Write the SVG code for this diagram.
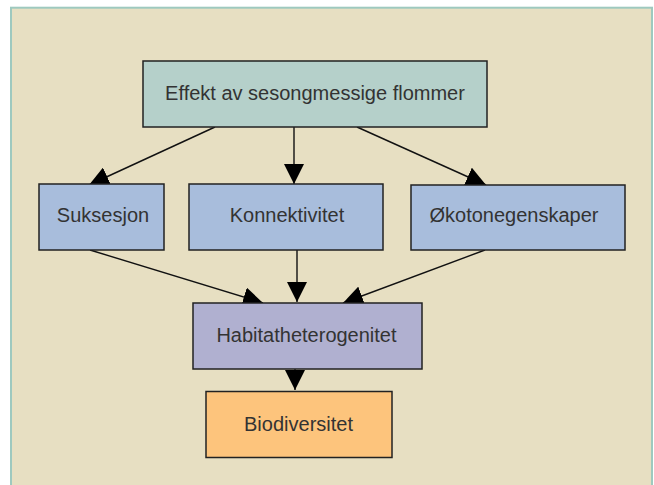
<svg xmlns="http://www.w3.org/2000/svg" width="654" height="485" viewBox="0 0 654 485">
<style>
.box{stroke:#222;stroke-width:1.5}
.lbl{font-family:"Liberation Sans",Arial,sans-serif;font-size:20px;fill:#333;text-anchor:middle}
.edge{stroke:#111;stroke-width:1.4;fill:none;marker-end:url(#ah)}
</style>
<defs>
<marker id="ah" markerUnits="userSpaceOnUse" markerWidth="20" markerHeight="20" viewBox="0 0 20 20" refX="20" refY="10" orient="auto">
<path d="M0,0 L20,10 L0,20 Z" fill="#000"/>
</marker>
</defs>
<rect width="654" height="485" fill="#fff"/>
<rect x="11" y="7.7" width="641" height="500" fill="#e7dfc2" stroke="#9ec9bf" stroke-width="2"/>
<g id="connectors">
<path class="edge" d="M215,127 L89,185"/>
<path class="edge" d="M294,127 L294,184"/>
<path class="edge" d="M357,127 L486,185"/>
<path class="edge" d="M90,250 L263,303"/>
<path class="edge" d="M297,250 L297,302"/>
<path class="edge" d="M485,250 L343,303"/>
<path class="edge" d="M295,369 L295,390"/>
</g>
<g id="n-effekt">
<rect class="box" x="143" y="61" width="344" height="66" fill="#b5d0ca"/>
<text class="lbl" x="315" y="100">Effekt av sesongmessige flommer</text>
</g>
<g id="n-suksesjon">
<rect class="box" x="39" y="184" width="125" height="66" fill="#a8bddc"/>
<text class="lbl" x="103" y="222">Suksesjon</text>
</g>
<g id="n-konnektivitet">
<rect class="box" x="189" y="184" width="194" height="66" fill="#a8bddc"/>
<text class="lbl" x="287" y="222">Konnektivitet</text>
</g>
<g id="n-okotone">
<rect class="box" x="411" y="185" width="214" height="65" fill="#a8bddc"/>
<text class="lbl" x="514" y="222">Økotonegenskaper</text>
</g>
<g id="n-habitat">
<rect class="box" x="193" y="303" width="229" height="66" fill="#b0b0d0"/>
<text class="lbl" x="306.5" y="342">Habitatheterogenitet</text>
</g>
<g id="n-biodiversitet">
<rect class="box" x="206" y="391.5" width="186" height="66" fill="#fdc47c"/>
<text class="lbl" x="298.5" y="431">Biodiversitet</text>
</g>
</svg>
